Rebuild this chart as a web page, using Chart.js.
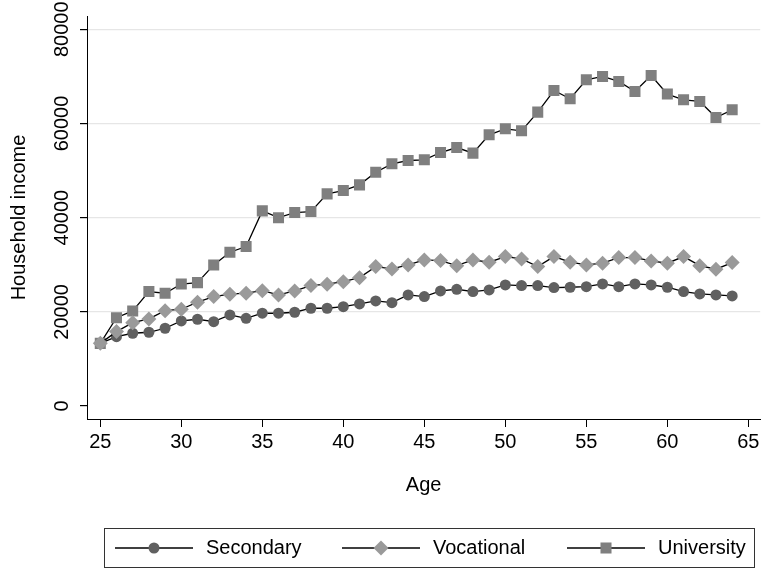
<!DOCTYPE html>
<html>
<head>
<meta charset="utf-8">
<script src="https://cdn.jsdelivr.net/npm/chart.js@4.4.1/dist/chart.umd.min.js"></script>
<style>
html,body{margin:0;padding:0;background:#fff;}
canvas{display:block;}
</style>
</head>
<body>
<canvas id="chart" width="768" height="572"></canvas>
<script>
// === Datos ===
const ages = [25,26,27,28,29,30,31,32,33,34,35,36,37,38,39,40,41,42,43,44,
              45,46,47,48,49,50,51,52,53,54,55,56,57,58,59,60,61,62,63,64];
const secondary = [13300,14730,15450,15660,16510,18060,18420,17910,19340,18630,
                   19700,19700,19910,20760,20760,21100,21680,22310,21950,23590,
                   23230,24440,24790,24290,24650,25710,25570,25570,25140,25220,
                   25350,25930,25350,25930,25710,25220,24290,23800,23590,23375];
const vocational = [13300,15800,17700,18490,20250,20550,22040,23230,23740,23950,
                    24500,23590,24440,25570,25860,26410,27260,29600,29110,29960,
                    31030,30880,29810,31030,30530,31730,31240,29600,31730,30530,
                    29960,30320,31520,31520,30810,30320,31730,29810,29050,30450];
const university = [13300,18760,20190,24300,23950,25900,26200,29960,32660,33850,
                    41440,40000,41080,41290,45050,45760,46960,49650,51430,52130,
                    52280,53830,54890,53700,57590,58860,58440,62410,67000,65240,
                    69280,69980,68920,66790,70190,66240,65030,64670,61270,62900];
const seriesNames = ['Secondary','Vocational','University'];
const xTicks = [25,30,35,40,45,50,55,60,65];
const yTicks = [0,20000,40000,60000,80000];

const FONT = '"Liberation Sans", Arial, Helvetica, sans-serif';
Chart.defaults.font.family = FONT;
Chart.defaults.color = '#000';

function pts(values){
  return ages.map((a,i)=>({x:a, y:values[i]}));
}

// estilos de marcadores por serie
const markers = [
  {pointStyle:'circle',  radius:5.5, color:'#606060'},
  {pointStyle:'rectRot', radius:7.5, color:'#9a9a9a'},
  {pointStyle:'rect',    radius:7.8, color:'#7f7f7f'}
];
const seriesData = [secondary, vocational, university];

const datasets = seriesNames.map((name,i)=>({
  label: name,
  data: pts(seriesData[i]),
  borderColor: '#000',
  borderWidth: 1.3,
  fill: false,
  tension: 0,
  pointStyle: markers[i].pointStyle,
  pointRadius: markers[i].radius,
  pointBackgroundColor: markers[i].color,
  pointBorderColor: markers[i].color,
  pointBorderWidth: 0,
  order: i === 1 ? 0 : (i === 2 ? 1 : 2)
}));

// etiquetas del eje y giradas + leyenda con caja
const overlay = {
  id:'overlay',
  afterDraw(chart){
    const ctx = chart.ctx;
    const ys = chart.scales.y;
    ctx.save();
    ctx.fillStyle = '#000';
    ctx.font = '20px ' + FONT;
    ctx.textAlign = 'center';
    ctx.textBaseline = 'middle';
    ys.ticks.forEach(t=>{
      ctx.save();
      ctx.translate(62, ys.getPixelForValue(t.value));
      ctx.rotate(-Math.PI/2);
      ctx.fillText(String(t.value), 0, 0);
      ctx.restore();
    });

    // leyenda
    ctx.strokeStyle = '#333';
    ctx.lineWidth = 1;
    ctx.strokeRect(104.5, 528.5, 650, 39);
    const ly = 548;
    const starts = [115, 342, 567];
    ctx.textAlign = 'left';
    seriesNames.forEach((name,i)=>{
      const x0 = starts[i], x1 = x0 + 78;
      ctx.strokeStyle = '#000';
      ctx.lineWidth = 1.3;
      ctx.beginPath();
      ctx.moveTo(x0, ly);
      ctx.lineTo(x1, ly);
      ctx.stroke();
      ctx.fillStyle = markers[i].color;
      Chart.helpers.drawPoint(ctx, {
        pointStyle: markers[i].pointStyle,
        radius: markers[i].radius,
        rotation: 0,
        borderWidth: 0
      }, (x0+x1)/2, ly);
      ctx.fillStyle = '#000';
      ctx.fillText(name, x1 + 13, ly);
    });
    ctx.restore();
  }
};

new Chart(document.getElementById('chart'), {
  type:'line',
  data:{datasets},
  options:{
    responsive:false,
    animation:false,
    devicePixelRatio:1,
    layout:{padding:{top:16, right:0, left:0, bottom:0}},
    plugins:{legend:{display:false}, tooltip:{enabled:false}},
    scales:{
      x:{
        type:'linear',
        min:24.18, max:65.73,
        afterBuildTicks: s => { s.ticks = xTicks.map(v=>({value:v})); },
        afterFit: s => { s.height = 153; },
        ticks:{font:{size:20}, padding:3, maxRotation:0, autoSkip:false, color:'#000'},
        grid:{color:'rgba(0,0,0,0)', tickColor:'#000', tickLength:8, drawOnChartArea:false},
        border:{display:true, color:'#000', width:1},
        title:{display:true, text:'Age', font:{size:20}, color:'#000', padding:{top:0, bottom:75}}
      },
      y:{
        type:'linear',
        min:-2760, max:82820,
        afterBuildTicks: s => { s.ticks = yTicks.map(v=>({value:v})); },
        afterFit: s => { s.width = 87; },
        ticks:{display:false},
        grid:{
          color: c => (c.tick && c.tick.value === 0) ? 'rgba(0,0,0,0)' : '#e6e6e6',
          lineWidth:1.2,
          tickColor:'#000', tickLength:7
        },
        border:{display:true, color:'#000', width:1},
        title:{display:true, text:'Household income', font:{size:20}, color:'#000', padding:{top:7, bottom:0}}
      }
    }
  },
  plugins:[overlay]
});
</script>
</body>
</html>
